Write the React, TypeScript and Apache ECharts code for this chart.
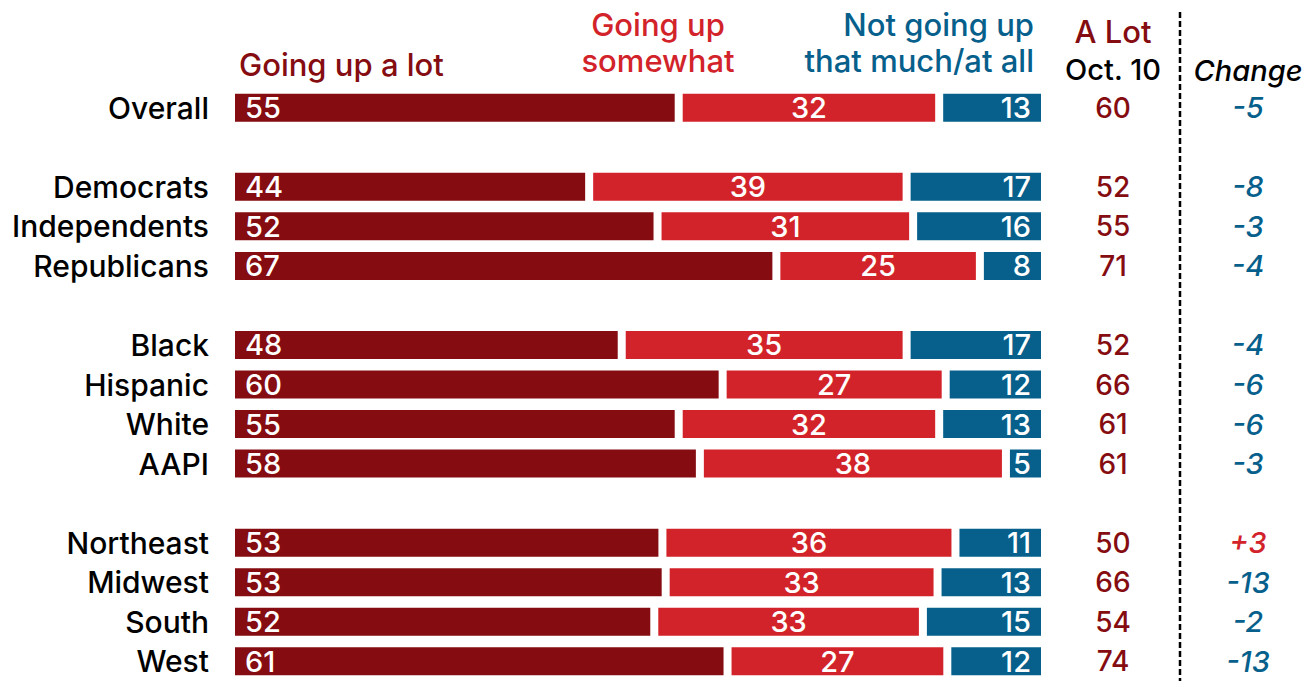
import React, { useEffect, useRef } from "react";
import * as echarts from "echarts";

const categories = ["Overall", "gap1", "Democrats", "Independents", "Republicans", "gap2", "Black", "Hispanic", "White", "AAPI", "gap3", "Northeast", "Midwest", "South", "West"];
const goingUpALot = [55, null, 44, 52.4, 67, null, 48, 60.4, 55, 57.6, null, 53, 53.4, 52, 61];
const goingUpSomewhat = [32, null, 39, 31.4, 25, null, 35, 27.4, 32, 37.6, null, 36, 33.4, 33, 27];
const notGoingUp = [13, null, 17, 16.2, 8, null, 17, 12.2, 13, 4.8, null, 11, 13.2, 15, 12];
const aLotOct10 = [60, null, 52, 55, 71, null, 52, 66, 61, 61, null, 50, 66, 54, 74];
const changeVals = [-5, null, -8, -3, -4, null, -4, -6, -6, -3, null, 3, -13, -2, -13];

const DARK = "#850c10";
const RED = "#d3232a";
const BLUE = "#06608b";
const FONT = "Inter";
const W = 500;
const HEAD = 31;

export default function App() {
  const ref = useRef<HTMLDivElement>(null);
  useEffect(() => {
    const chart = echarts.init(ref.current!, null, { renderer: "svg" });
    const fmt = (p: any) => (p.value == null ? "" : String(Math.round(p.value)));
    const barBase = {
      type: "bar",
      stack: "total",
      barWidth: 36,
      xAxisIndex: 0,
      yAxisIndex: 0,
      itemStyle: { borderColor: "#ffffff", borderWidth: 4 },
    };
    const labelBase = { show: true, color: "#ffffff", fontFamily: FONT, fontWeight: W, fontSize: 29, formatter: fmt };
    const hiddenAxis = { axisLine: { show: false }, axisTick: { show: false }, splitLine: { show: false } };
    chart.setOption({
      animation: false,
      grid: { left: 231, width: 814, top: 88, height: 600 },
      xAxis: { type: "value", min: 0, max: 100, show: false },
      yAxis: [
        {
          type: "category",
          inverse: true,
          data: categories,
          ...hiddenAxis,
          axisLabel: {
            interval: 0,
            margin: 22,
            color: "#000",
            fontFamily: FONT,
            fontWeight: W,
            fontSize: 30,
            formatter: (v: string) => (v.startsWith("gap") ? "" : v),
          },
        },
        {
          type: "category",
          inverse: true,
          position: "right",
          data: categories,
          ...hiddenAxis,
          axisLabel: {
            interval: 0,
            margin: 68,
            align: "center",
            color: DARK,
            fontFamily: FONT,
            fontWeight: W,
            fontSize: 28,
            formatter: (_v: string, i: number) => (aLotOct10[i] == null ? "" : String(aLotOct10[i])),
          },
        },
        {
          type: "category",
          inverse: true,
          position: "right",
          data: categories,
          ...hiddenAxis,
          axisLabel: {
            interval: 0,
            margin: 203,
            align: "center",
            fontFamily: FONT,
            fontWeight: W,
            fontSize: 29,
            fontStyle: "italic",
            formatter: (_v: string, i: number) => {
              const c = changeVals[i];
              if (c == null) return "";
              return c > 0 ? `{pos|+${c}}` : `{neg|${c}}`;
            },
            rich: {
              pos: { color: RED, fontFamily: FONT, fontWeight: W, fontSize: 29, fontStyle: "italic" },
              neg: { color: BLUE, fontFamily: FONT, fontWeight: W, fontSize: 29, fontStyle: "italic" },
            },
          },
        },
      ],
      series: [
        {
          ...barBase,
          name: "Going up a lot",
          data: goingUpALot,
          itemStyle: { ...barBase.itemStyle, color: DARK },
          label: { ...labelBase, position: "insideLeft", distance: 14 },
        },
        {
          ...barBase,
          name: "Going up somewhat",
          data: goingUpSomewhat,
          itemStyle: { ...barBase.itemStyle, color: RED },
          label: { ...labelBase, position: "inside" },
        },
        {
          ...barBase,
          name: "Not going up that much/at all",
          data: notGoingUp,
          itemStyle: { ...barBase.itemStyle, color: BLUE },
          label: { ...labelBase, position: "insideRight", distance: 14 },
        },
      ],
      graphic: [
        {
          type: "text",
          x: 239,
          y: 64,
          style: { text: "Going up a lot", fill: DARK, font: `${W} ${HEAD}px ${FONT}`, textAlign: "left", textVerticalAlign: "middle" },
        },
        {
          type: "text",
          x: 658,
          y: 42,
          style: { text: "Going up\nsomewhat", fill: RED, font: `${W} ${HEAD}px ${FONT}`, textAlign: "center", textVerticalAlign: "middle", lineHeight: 36 },
        },
        {
          type: "text",
          x: 1034,
          y: 42,
          style: { text: "Not going up\nthat much/at all", fill: BLUE, font: `${W} ${HEAD}px ${FONT}`, textAlign: "right", textVerticalAlign: "middle", lineHeight: 36 },
        },
        {
          type: "text",
          x: 1113,
          y: 31,
          style: { text: "A Lot", fill: DARK, font: `${W} ${HEAD}px ${FONT}`, textAlign: "center", textVerticalAlign: "middle" },
        },
        {
          type: "text",
          x: 1113,
          y: 69,
          style: { text: "Oct. 10", fill: "#000", font: `${W} 29px ${FONT}`, textAlign: "center", textVerticalAlign: "middle" },
        },
        {
          type: "text",
          x: 1248,
          y: 70,
          style: { text: "Change", fill: "#000", font: `italic ${W} 29px ${FONT}`, textAlign: "center", textVerticalAlign: "middle" },
        },
        {
          type: "line",
          shape: { x1: 1180, y1: 12, x2: 1180, y2: 681 },
          style: { stroke: "#000", lineWidth: 2.5, lineDash: [6, 3] },
        },
      ],
    });
    return () => chart.dispose();
  }, []);
  return <div ref={ref} style={{ position: "absolute", left: 0, top: 0, width: 1304, height: 681 }} />;
}
